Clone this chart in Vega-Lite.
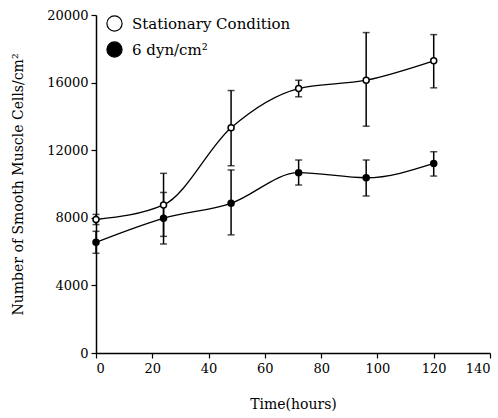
{
  "$schema": "https://vega.github.io/schema/vega-lite/v6.json",
  "width": 394,
  "height": 338,
  "autosize": "none",
  "padding": {"left": 96, "top": 15, "right": 8, "bottom": 65},
  "background": "white",
  "config": {
    "view": {"stroke": null},
    "font": "DejaVu Serif",
    "axis": {"grid": false, "domainColor": "black", "tickColor": "black", "labelColor": "black", "titleColor": "black", "domainWidth": 1.5, "tickWidth": 1.2}
  },
  "data": {
    "values": [
      {"t": 0, "series": "Stationary Condition", "mean": 7900, "lo": 7600, "hi": 8200},
      {"t": 24, "series": "Stationary Condition", "mean": 8760, "lo": 6900, "hi": 10630},
      {"t": 48, "series": "Stationary Condition", "mean": 13330, "lo": 11080, "hi": 15530},
      {"t": 72, "series": "Stationary Condition", "mean": 15650, "lo": 15160, "hi": 16140},
      {"t": 96, "series": "Stationary Condition", "mean": 16140, "lo": 13420, "hi": 18960},
      {"t": 120, "series": "Stationary Condition", "mean": 17290, "lo": 15690, "hi": 18840},
      {"t": 0, "series": "6 dyn/cm²", "mean": 6550, "lo": 5900, "hi": 7200},
      {"t": 24, "series": "6 dyn/cm²", "mean": 7970, "lo": 6450, "hi": 9500},
      {"t": 48, "series": "6 dyn/cm²", "mean": 8860, "lo": 6990, "hi": 10830},
      {"t": 72, "series": "6 dyn/cm²", "mean": 10670, "lo": 9940, "hi": 11420},
      {"t": 96, "series": "6 dyn/cm²", "mean": 10370, "lo": 9290, "hi": 11420},
      {"t": 120, "series": "6 dyn/cm²", "mean": 11220, "lo": 10470, "hi": 11910}
    ]
  },
  "encoding": {
    "x": {"field": "t", "type": "quantitative", "scale": {"domain": [0, 140], "nice": false},
      "axis": {"title": "Time(hours)", "values": [0, 20, 40, 60, 80, 100, 120, 140], "format": "d", "labelFont": "DejaVu Serif", "titleFont": "DejaVu Serif", "titleFontWeight": "normal", "labelFontSize": 13, "titleFontSize": 14, "tickSize": 5, "labelPadding": 4, "titlePadding": 22}}
  },
  "layer": [
    {
      "mark": {"type": "rule", "color": "black", "strokeWidth": 1.5},
      "encoding": {"y": {"field": "lo", "type": "quantitative"}, "y2": {"field": "hi"}}
    },
    {
      "mark": {"type": "tick", "color": "black", "orient": "horizontal", "size": 7, "thickness": 1.5},
      "encoding": {"y": {"field": "lo", "type": "quantitative"}}
    },
    {
      "mark": {"type": "tick", "color": "black", "orient": "horizontal", "size": 7, "thickness": 1.5},
      "encoding": {"y": {"field": "hi", "type": "quantitative"}}
    },
    {
      "mark": {"type": "line", "color": "black", "strokeWidth": 1.3, "interpolate": "monotone"},
      "encoding": {
        "y": {"field": "mean", "type": "quantitative"},
        "detail": {"field": "series"}
      }
    },
    {
      "mark": {"type": "point", "shape": "circle", "stroke": "black", "strokeWidth": 1.5, "opacity": 1, "filled": false},
      "encoding": {
        "y": {"field": "mean", "type": "quantitative",
          "scale": {"domain": [0, 20000], "nice": false},
          "axis": {"title": "Number of Smooth Muscle Cells/cm²", "values": [0, 4000, 8000, 12000, 16000, 20000], "format": "d", "labelFont": "DejaVu Serif", "titleFont": "DejaVu Serif", "titleFontWeight": "normal", "labelFontSize": 13, "titleFontSize": 14, "tickSize": 5, "labelPadding": 3, "titlePadding": 21}},
        "fill": {"field": "series", "type": "nominal",
          "scale": {"domain": ["Stationary Condition", "6 dyn/cm²"], "range": ["white", "black"]},
          "legend": {"title": null, "orient": "none", "legendX": 10, "legendY": 0, "symbolSize": 230, "symbolStrokeColor": "black", "symbolStrokeWidth": 1.2, "labelFontSize": 15, "labelFont": "DejaVu Serif", "labelColor": "black", "rowPadding": 5, "labelOffset": 9}},
        "size": {"value": 36}
      }
    }
  ]
}
